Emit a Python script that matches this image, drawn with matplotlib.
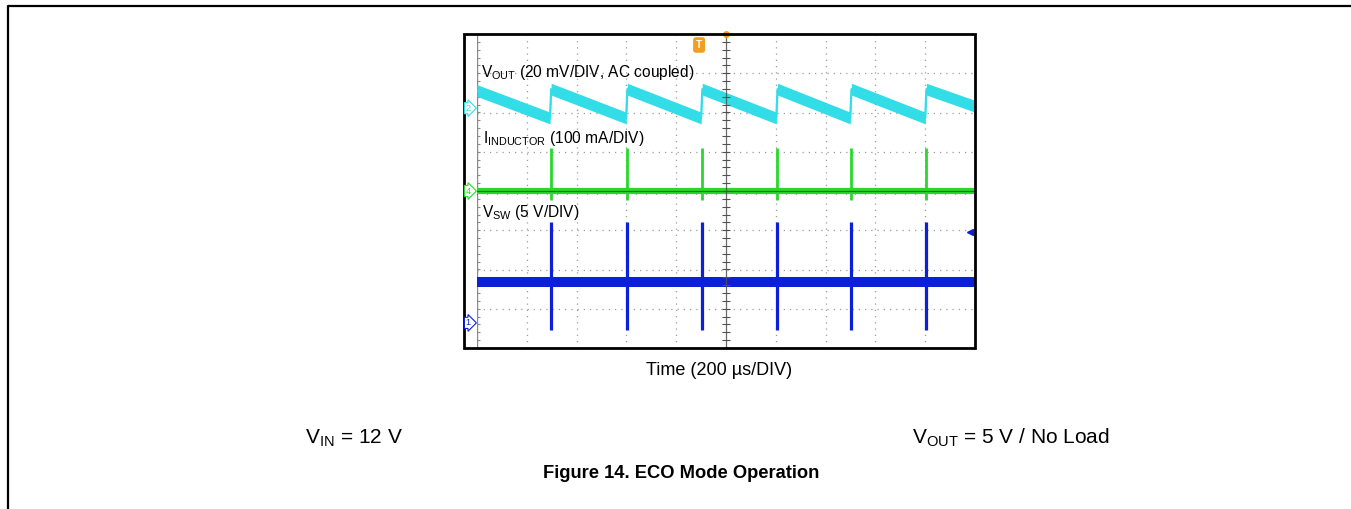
import matplotlib
matplotlib.use('Agg')
import matplotlib.pyplot as plt
from matplotlib.lines import Line2D
from matplotlib.patches import Rectangle
import numpy as np

plt.rcParams['font.family'] = ['Liberation Sans', 'DejaVu Sans']
plt.rcParams['mathtext.default'] = 'regular'

# ---------------- data read from the scope capture ----------------
# switching events (µs from left edge of screen)
pulse_times_us = [296, 602, 903, 1205, 1502, 1803]

# output voltage ripple (AC coupled), vertices of the sawtooth
vout_t_us = [0, 293, 298, 599, 604, 900, 905, 1202, 1207, 1499, 1504, 1800, 1805, 2000]
vout_mv = [9.0, -5.0, 9.7, -5.0, 9.7, -5.0, 9.7, -5.0, 9.7, -5.0, 9.7, -5.0, 9.7, 1.0]

# inductor current levels (mA)
il_idle_ma = 0.0
il_peak_ma = 110.0
il_dip_ma = -22.0

# switch node voltage levels (V)
vsw_idle_v = 5.2
vsw_peak_v = 12.8
vsw_low_v = -0.9

# channel settings (scale per division, ground marker position in divisions)
vout_scale_mv = 20.0
vout_offset_div = 2.11
il_scale_ma = 100.0
il_offset_div = 0.0
vsw_scale_v = 5.0
vsw_offset_div = -3.36
time_per_div_us = 200.0

# ---------------- figure ----------------
W, H = 1351, 509
fig = plt.figure(figsize=(W / 100, H / 100), dpi=100)


def fx(p):
    return p / W


def fy(p):
    return 1 - p / H


CYAN = '#33dde8'
GREEN = '#2ad82a'
BLUE = '#0c20d6'
ORANGE = '#f0a020'

ax = fig.add_axes([fx(477), fy(348), fx(975) - fx(477), fy(34) - fy(348)])
ax.set_xlim(0, 10 * time_per_div_us)
ax.set_ylim(-4, 4)
ax.axis('off')

# graticule
for i in range(1, 10):
    if i == 5:
        continue
    ax.axvline(i * time_per_div_us, ls=(0, (1, 4)), color='#9c9c9c', lw=0.9, zorder=1)
for j in range(-3, 4):
    if j == 0:
        continue
    ax.axhline(j, ls=(0, (1, 4)), color='#9c9c9c', lw=0.9, zorder=1)

# left edge line with ticks
ax.axvline(0, color='#8a8a8a', lw=1.0, zorder=1)
minor_y = np.arange(-4, 4.001, 0.2)
ax.hlines(minor_y, 0, 12, color='#8a8a8a', lw=0.8, zorder=1)

# center cross ticks (beneath traces)
minor_x = np.arange(0, 2000.1, 40)
ax.vlines(minor_x, -0.08, 0.08, color='#505050', lw=0.8, zorder=2)


def vout_div(v):
    return vout_offset_div + np.asarray(v) / vout_scale_mv


def il_div(v):
    return il_offset_div + np.asarray(v) / il_scale_ma


def vsw_div(v):
    return vsw_offset_div + np.asarray(v) / vsw_scale_v


# traces
yv = vout_div(vout_mv)
ax.fill_between(vout_t_us, yv - 0.15, yv + 0.15, color=CYAN, lw=0, zorder=3)
ax.plot(vout_t_us, yv, color=CYAN, lw=1.6, zorder=3)

ax.plot([0, 2000], [il_div(il_idle_ma)] * 2, color=GREEN, lw=4.5, solid_capstyle='butt', zorder=3)
ax.vlines(pulse_times_us, il_div(il_dip_ma), il_div(il_peak_ma), color=GREEN, lw=2.0, zorder=3)

ax.plot([0, 2000], [vsw_div(vsw_idle_v)] * 2, color=BLUE, lw=7.2, solid_capstyle='butt', zorder=3)
ax.vlines(pulse_times_us, vsw_div(vsw_low_v), vsw_div(vsw_peak_v), color=BLUE, lw=2.3, zorder=3)

# center cross lines (drawn over traces)
ax.axvline(1000, color='#505050', lw=0.9, zorder=4, alpha=0.85)
ax.axhline(0, color='#2f552f', lw=0.9, zorder=4, alpha=0.85)
ax.hlines(minor_y, 1000 - 16, 1000 + 16, color='#505050', lw=0.8, zorder=4)

# trigger markers
ax.plot([1000], [4], marker='o', ms=4, color=ORANGE, clip_on=False, zorder=5)
ax.text(892, 3.72, 'T', fontsize=7.5, fontweight='bold', color='white', ha='center', va='center',
        bbox=dict(boxstyle='round,pad=0.2', fc=ORANGE, ec=ORANGE), zorder=5)
ax.plot([1980], [-1.04], marker='<', ms=4, color=BLUE, zorder=5)

# channel markers on the left
for label, ydiv, col in [('2', vout_offset_div, CYAN), ('4', il_offset_div, GREEN), ('1', vsw_offset_div, BLUE)]:
    fig.text(fx(468), fy(191 - ydiv * 39.25), label, fontsize=6.5, color=col, ha='center', va='center',
             bbox=dict(boxstyle='rarrow,pad=0.12', fc='white', ec=col, lw=0.8))

# trace labels
fig.text(fx(481), fy(77), r'V$_{OUT}$ (20 mV/DIV, AC coupled)', fontsize=11.2, va='baseline', ha='left')
fig.text(fx(483), fy(143), r'I$_{INDUCTOR}$ (100 mA/DIV)', fontsize=11.2, va='baseline', ha='left')
fig.text(fx(482), fy(217), r'V$_{SW}$ (5 V/DIV)', fontsize=11.2, va='baseline', ha='left')

# scope frame
fig.add_artist(Rectangle((fx(464), fy(348)), fx(975) - fx(464), fy(34) - fy(348),
                         transform=fig.transFigure, fill=False, ec='black', lw=2.0))

# axis caption and notes
fig.text(fx(719), fy(375), 'Time (200 µs/DIV)', fontsize=13, ha='center', va='baseline')
fig.text(fx(305), fy(444), r'V$_{IN}$ = 12 V', fontsize=15, ha='left', va='baseline')
fig.text(fx(912), fy(444), r'V$_{OUT}$ = 5 V / No Load', fontsize=15, ha='left', va='baseline')
fig.text(fx(681), fy(478), 'Figure 14. ECO Mode Operation', fontsize=13.2, fontweight='bold',
         ha='center', va='baseline')

# outer page border (left and top)
fig.add_artist(Line2D([fx(8), fx(8), 1.0], [0.0, fy(6), fy(6)], transform=fig.transFigure,
                      color='black', lw=1.6))

fig.savefig('out.png', dpi=100)
